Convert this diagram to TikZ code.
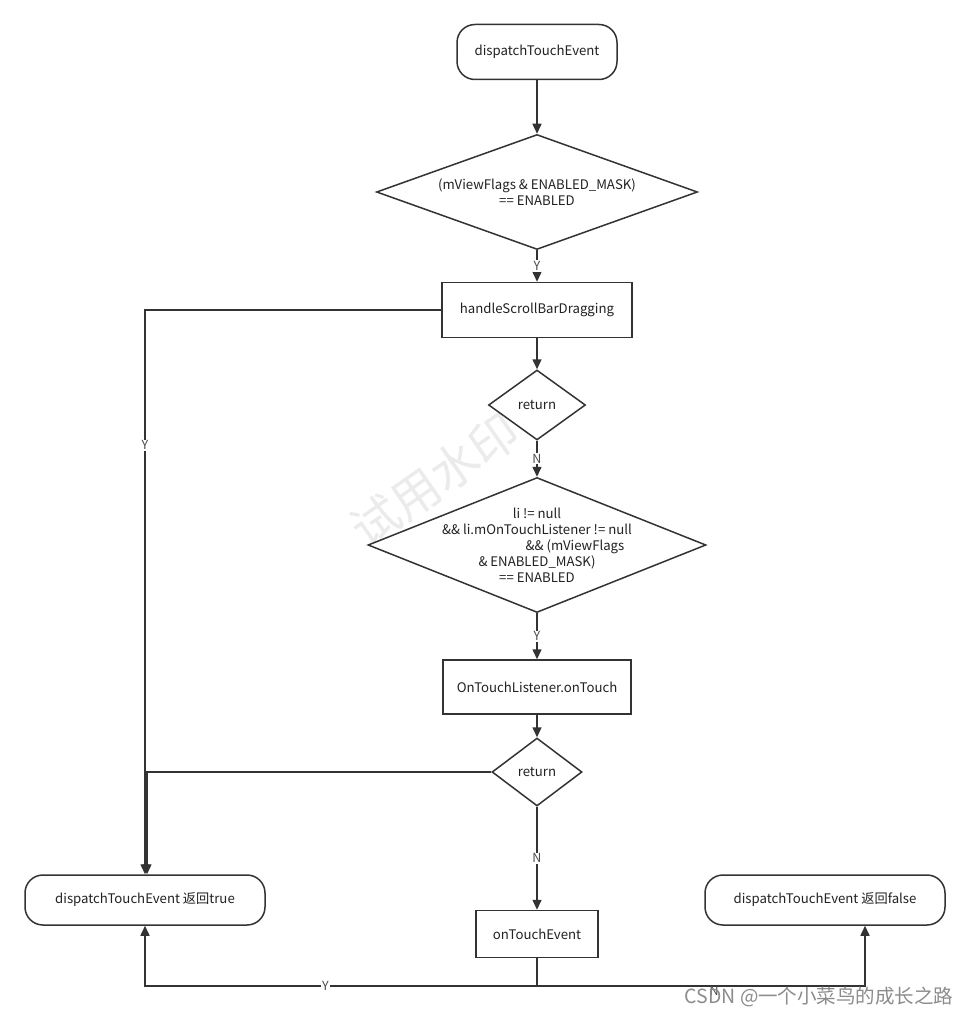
\documentclass[tikz,border=0pt]{standalone}
\usepackage{fontspec}
\setmainfont{Noto Sans CJK SC}
\usetikzlibrary{shapes.geometric,arrows.meta}
\definecolor{linegray}{HTML}{333333}
\definecolor{textgray}{HTML}{222222}

\tikzset{
    term/.style={draw=linegray, line width=1.5pt, rounded corners=18pt, fill=white, text=textgray},
    proc/.style={draw=linegray, line width=1.5pt, fill=white, text=textgray},
    cond/.style={draw=linegray, line width=1.5pt, shape=diamond, inner sep=0pt, fill=white},
    arr/.style={draw=linegray, line width=1.5pt, -{Triangle[length=10pt,width=9pt]}},
    lbl/.style={fill=white, inner sep=1pt, text=black!70, font=\fontsize{12.5}{13}\selectfont},
}

\begin{document}
\begin{tikzpicture}[x=1pt, y=-1pt, font=\fontsize{13.2}{16}\selectfont]
    \useasboundingbox[fill=white] (0,0) rectangle (971,1014);

    % watermark
    \node[rotate=35, text=black!8, font=\fontsize{48}{48}\selectfont] (wmark) at (435,480) {试用水印};

    \node[term, minimum width=160pt, minimum height=55pt] (start) at (537,52) {dispatchTouchEvent};
    \node[cond, minimum width=321pt, minimum height=115pt,
        label={[align=center, text=textgray]center:(mViewFlags \& ENABLED\_MASK)\\== ENABLED}] (enabled) at (537,192) {};
    \node[proc, minimum width=190pt, minimum height=55pt] (scroll) at (537,310) {handleScrollBarDragging};
    \node[cond, minimum width=97pt, minimum height=70pt,
        label={[text=textgray]center:return}] (ret1) at (537,405) {};
    \node[cond, minimum width=338pt, minimum height=135pt,
        label={[align=center, text=textgray]center:li != null\\\&\& li.mOnTouchListener != null\\\hspace*{76pt}\&\& (mViewFlags\\\& ENABLED\_MASK)\\== ENABLED}] (listener) at (537,545) {};
    \node[proc, minimum width=188pt, minimum height=54pt] (touch) at (537,687) {OnTouchListener.onTouch};
    \node[cond, minimum width=90pt, minimum height=68pt,
        label={[text=textgray]center:return}] (ret2) at (537,772) {};
    \node[proc, minimum width=122pt, minimum height=47pt] (ontouch) at (537,934) {onTouchEvent};
    \node[term, minimum width=240pt, minimum height=50pt] (rettrue) at (145,900) {dispatchTouchEvent 返回true};
    \node[term, minimum width=240pt, minimum height=50pt] (retfalse) at (825,900) {dispatchTouchEvent 返回false};
    \coordinate (bottom) at (537,986);

    \draw[arr] (start) -- (enabled);
    \draw[arr] (enabled) -- node[lbl] {Y} (scroll);
    \draw[arr] (scroll) -- (ret1);
    \draw[arr] (scroll.west) -| node[lbl, pos=0.62] {Y} (rettrue.north);
    \draw[arr] (ret1) -- node[lbl] {N} (listener);
    \draw[arr] (listener) -- node[lbl] {Y} (touch);
    \draw[arr] (touch) -- (ret2);
    \draw[arr] (ret2.west) -| ([xshift=2pt]rettrue.north);
    \draw[arr] (ret2) -- node[lbl] {N} (ontouch);
    \draw[draw=linegray, line width=1.5pt] (ontouch.south) -- (bottom);
    \draw[arr] (bottom) -| node[lbl, pos=0.27] {Y} (rettrue.south);
    \draw[arr] (bottom) -| node[lbl, pos=0.27, yshift=-5pt, fill=none] {N} ([xshift=40pt]retfalse.south);

    % csdn mark
    \node[anchor=east, text=black!45, font=\fontsize{19.5}{20}\selectfont] (csdn) at (957,997) {CSDN @一个小菜鸟的成长之路};
\end{tikzpicture}
\end{document}
